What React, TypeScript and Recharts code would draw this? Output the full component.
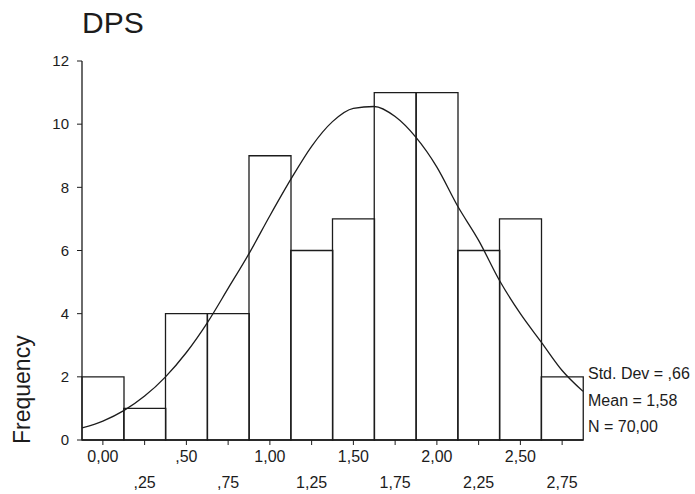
import React from "react";
import {
  ComposedChart,
  Bar,
  Line,
  XAxis,
  YAxis,
} from "recharts";

// histogram bins (bin centres) and counts
const binCenters = [0, 0.25, 0.5, 0.75, 1, 1.25, 1.5, 1.75, 2, 2.25, 2.5, 2.75];
const binLabels = ["0,00", ",25", ",50", ",75", "1,00", "1,25", "1,50", "1,75", "2,00", "2,25", "2,50", "2,75"];
const frequencies = [2, 1, 4, 4, 9, 6, 7, 11, 11, 6, 7, 2];

// normal curve
const curveX = [
  -0.125, 0, 0.125, 0.25, 0.375, 0.5, 0.625, 0.75, 0.875, 1, 1.125, 1.25, 1.375,
  1.5, 1.625, 1.75, 1.875, 2, 2.125, 2.25, 2.375, 2.5, 2.625, 2.75, 2.875,
];
const curveY = [
  0.38, 0.6, 0.93, 1.39, 2.0, 2.77, 3.71, 4.8, 5.9, 7.1, 8.25, 9.3, 10.08,
  10.5, 10.56, 10.24, 9.58, 8.64, 7.4, 6.32, 5.05, 4.0, 3.1, 2.2, 1.54,
];

const yTicks = [0, 2, 4, 6, 8, 10, 12];
const stats = ["Std. Dev = ,66", "Mean = 1,58", "N = 70,00"];

const FONT = "'Liberation Sans', Arial, sans-serif";
const INK = "#1c1c1c";

const barData = binCenters.map((c, i) => ({
  bin: binLabels[i],
  x: c,
  count: frequencies[i],
}));

const curveData = curveX.map((x, i) => ({ x, y: curveY[i] }));

const XTick = (props: any) => {
  const { x, y, payload, index } = props;
  const second = index % 2 === 1;
  return (
    <text
      x={x}
      y={y + (second ? 41 : 15)}
      textAnchor="middle"
      fontSize={16}
      fontFamily={FONT}
      fill={INK}
    >
      {payload.value}
    </text>
  );
};

export default function App() {
  return (
    <div
      style={{
        position: "absolute",
        left: 0,
        top: 0,
        width: 695,
        height: 494,
        background: "#fff",
        fontFamily: FONT,
      }}
    >
      <div
        style={{
          position: "absolute",
          left: 82,
          top: 6,
          fontSize: 30,
          color: INK,
        }}
      >
        DPS
      </div>
      <div
        style={{
          position: "absolute",
          left: 9,
          top: 387,
          fontSize: 23,
          color: INK,
          transform: "rotate(-90deg)",
          transformOrigin: "0 0",
          whiteSpace: "nowrap",
        }}
      >
        <span style={{ position: "relative", left: -57 }}>Frequency</span>
      </div>
      {stats.map((s, i) => (
        <div
          key={s}
          style={{
            position: "absolute",
            left: 588,
            top: 365 + i * 26.5,
            fontSize: 16,
            color: INK,
            whiteSpace: "nowrap",
          }}
        >
          {s}
        </div>
      ))}
      <ComposedChart
        width={695}
        height={494}
        data={barData}
        barCategoryGap={0}
        margin={{ top: 61, right: 112, left: 22, bottom: 4 }}
        style={{ position: "absolute", left: 0, top: 0 }}
      >
        <XAxis
          xAxisId="cat"
          dataKey="bin"
          height={50}
          interval={0}
          tick={<XTick />}
          tickSize={5}
          axisLine={{ stroke: INK, strokeWidth: 1.3 }}
          tickLine={{ stroke: INK }}
        />
        <XAxis
          xAxisId="num"
          orientation="top"
          type="number"
          dataKey="x"
          domain={[-0.125, 2.875]}
          allowDataOverflow
          height={0}
          tick={false}
          tickLine={false}
          axisLine={{ stroke: INK, strokeWidth: 1.3 }}
        />
        <YAxis
          yAxisId="left"
          domain={[0, 12]}
          ticks={yTicks}
          width={60}
          tickSize={5}
          tickMargin={8}
          tick={{ fontSize: 15, fontFamily: FONT, fill: INK }}
          axisLine={{ stroke: INK, strokeWidth: 1.3 }}
          tickLine={{ stroke: INK }}
        />
        <YAxis
          yAxisId="right"
          orientation="right"
          domain={[0, 12]}
          width={0}
          tick={false}
          tickLine={false}
          axisLine={{ stroke: INK, strokeWidth: 1.3 }}
        />
        <Bar
          xAxisId="cat"
          yAxisId="left"
          dataKey="count"
          fill="none"
          stroke={INK}
          strokeWidth={1.3}
          isAnimationActive={false}
        />
        <Line
          xAxisId="num"
          yAxisId="left"
          data={curveData}
          dataKey="y"
          type="monotone"
          dot={false}
          stroke={INK}
          strokeWidth={1.3}
          isAnimationActive={false}
        />
      </ComposedChart>
    </div>
  );
}
